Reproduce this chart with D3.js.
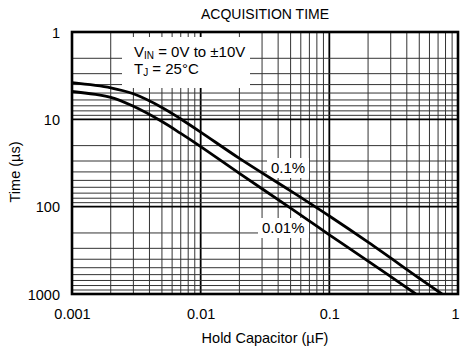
<!DOCTYPE html>
<html><head><meta charset="utf-8">
<script src="https://cdn.jsdelivr.net/npm/d3@7"></script>
<style>body{margin:0;background:#fff}svg{display:block}text{font-family:"Liberation Sans",Arial,sans-serif;fill:#000}</style>
</head><body><svg id="c" width="461" height="348"></svg>
<script>
const title = "ACQUISITION TIME";
const xLabel = "Hold Capacitor (µF)";
const yLabel = "Time (µs)";
const xTickValues = [0.001, 0.01, 0.1, 1];
const xTickLabels = ["0.001", "0.01", "0.1", "1"];
const yTickValues = [1, 10, 100, 1000];
const yTickLabels = ["1", "10", "100", "1000"];
const cap01 = [0.001, 0.002, 0.003, 0.005, 0.007, 0.01, 0.02, 0.05, 0.1, 0.2, 0.5, 0.75];
const time01 = [3.8, 4.35, 5.1, 7.3, 9.9, 14.0, 28, 66, 128, 255, 660, 1000];
const cap001 = [0.001, 0.002, 0.003, 0.005, 0.007, 0.01, 0.02, 0.05, 0.1, 0.2, 0.47];
const time001 = [4.8, 5.6, 7.1, 10.6, 14.5, 20.5, 41.5, 104, 210, 420, 1000];
const seriesNames = ["0.1%", "0.01%"];

const svg = d3.select("#c");
const L = 72, R = 458, T = 32, B = 294;
const x = d3.scaleLog().domain([0.001, 1]).range([L, R]);
const y = d3.scaleLog().domain([1, 1000]).range([T, B]);

const g = svg.append("g");
const isDecade = v => Math.abs(Math.log10(v) - Math.round(Math.log10(v))) < 1e-9;

// grid
g.selectAll(".vx").data(x.ticks()).join("line")
  .attr("x1", d => x(d)).attr("x2", d => x(d)).attr("y1", T).attr("y2", B)
  .attr("stroke", d => isDecade(d) ? "#000" : "#333")
  .attr("stroke-width", d => isDecade(d) ? 1.8 : 1);
g.selectAll(".hy").data(y.ticks()).join("line")
  .attr("y1", d => y(d)).attr("y2", d => y(d)).attr("x1", L).attr("x2", R)
  .attr("stroke", d => isDecade(d) ? "#000" : "#333")
  .attr("stroke-width", d => isDecade(d) ? 1.8 : 1);

// label backgrounds
g.append("rect").attr("x", 122).attr("y", 37).attr("width", 128).attr("height", 51).attr("fill", "#fff");
g.append("rect").attr("x", 267).attr("y", 158).attr("width", 42).attr("height", 20).attr("fill", "#fff");
g.append("rect").attr("x", 258).attr("y", 218).attr("width", 51).attr("height", 20).attr("fill", "#fff");

// curves
const line = d3.line().x(d => x(d[0])).y(d => y(d[1])).curve(d3.curveCatmullRom.alpha(0.5));
svg.append("clipPath").attr("id", "clp").append("rect")
  .attr("x", L).attr("y", T).attr("width", R - L).attr("height", B - T);
g.append("path").datum(d3.zip(cap01, time01)).attr("d", line)
  .attr("fill", "none").attr("stroke", "#000").attr("stroke-width", 2.8).attr("clip-path", "url(#clp)");
g.append("path").datum(d3.zip(cap001, time001)).attr("d", line)
  .attr("fill", "none").attr("stroke", "#000").attr("stroke-width", 2.8).attr("clip-path", "url(#clp)");

// frame
g.append("rect").attr("x", L).attr("y", T).attr("width", R - L).attr("height", B - T)
  .attr("fill", "none").attr("stroke", "#000").attr("stroke-width", 2.6);

// annotations
const ann = g.append("text").attr("x", 134).attr("y", 57).attr("font-size", 15);
ann.append("tspan").text("V");
ann.append("tspan").text("IN").attr("font-size", 10).attr("dy", 2);
ann.append("tspan").text(" = 0V to ±10V").attr("dy", -2);
const ann2 = g.append("text").attr("x", 134).attr("y", 74).attr("font-size", 15);
ann2.append("tspan").text("T");
ann2.append("tspan").text("J").attr("font-size", 10).attr("dy", 2);
ann2.append("tspan").text(" = 25°C").attr("dy", -2);
g.append("text").attr("x", 271).attr("y", 173).attr("font-size", 15).text(seriesNames[0]);
g.append("text").attr("x", 262).attr("y", 233).attr("font-size", 15).text(seriesNames[1]);

// axes labels
const xa = d3.axisBottom(x).tickValues(xTickValues).tickFormat((d, i) => xTickLabels[i]).tickSize(0).tickPadding(0);
const xg = svg.append("g").attr("transform", `translate(0,${B})`).call(xa);
xg.select(".domain").remove();
xg.selectAll("text").attr("font-size", 14.5).attr("dy", null).attr("y", 25)
  .attr("x", d => d === 1 ? -3 : 0)
  .style("font-family", "'Liberation Sans',Arial,sans-serif").attr("fill", "#000");
const ya = d3.axisLeft(y).tickValues(yTickValues).tickFormat((d, i) => yTickLabels[i]).tickSize(0).tickPadding(0);
const yg = svg.append("g").attr("transform", `translate(60,0)`).call(ya);
yg.select(".domain").remove();
yg.selectAll("text").attr("font-size", 14.5).attr("x", 0).attr("dy", "0.35em")
  .style("font-family", "'Liberation Sans',Arial,sans-serif").attr("fill", "#000");

svg.append("text").attr("x", (L + R) / 2).attr("y", 19).attr("text-anchor", "middle").attr("font-size", 14).text(title);
svg.append("text").attr("x", (L + R) / 2).attr("y", 343).attr("text-anchor", "middle").attr("font-size", 14.5).text(xLabel);
svg.append("text").attr("transform", "translate(20,172) rotate(-90)").attr("text-anchor", "middle").attr("font-size", 14.5).text(yLabel);
</script></body></html>
